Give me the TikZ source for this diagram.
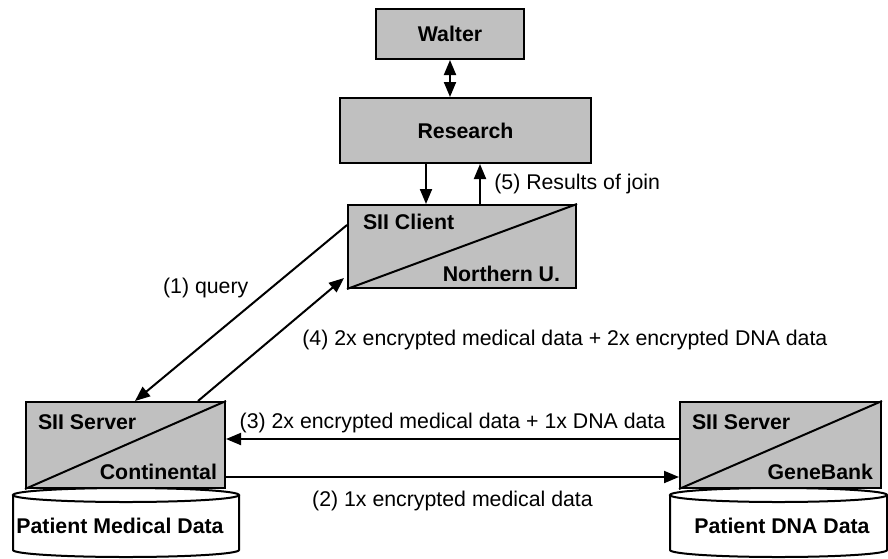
\documentclass[tikz,border=0pt]{standalone}
\usepackage{fontspec}
\setmainfont{Liberation Sans}
\usetikzlibrary{arrows.meta,calc}
\definecolor{boxgray}{RGB}{192,192,192}

\begin{document}
\begin{tikzpicture}[x=1pt, y=-1pt, line width=2pt,
  font=\fontsize{21.3}{25}\selectfont,
  >={Triangle[length=15pt,width=12pt]},
  box/.style={draw, fill=boxgray, inner sep=0pt, font=\fontsize{21.3}{25}\selectfont\bfseries},
  boxlbl/.style={inner sep=0pt, font=\fontsize{21.3}{25}\selectfont\bfseries}]
\useasboundingbox (0,0) rectangle (888,558);

% databases under the servers
\draw[fill=white] (13,495) -- (13,550) arc[start angle=180, end angle=360, x radius=113pt, y radius=7pt] -- (239,495);
\draw[fill=white] (126,495) ellipse[x radius=113pt, y radius=7pt];
\node[boxlbl] (meddb) at (120,526) {Patient Medical Data};
\draw[fill=white] (670,495) -- (670,550) arc[start angle=180, end angle=360, x radius=108.5pt, y radius=7pt] -- (887,495);
\draw[fill=white] (778.5,495) ellipse[x radius=108.5pt, y radius=7pt];
\node[boxlbl] (dnadb) at (782,526) {Patient DNA Data};

% boxes
\node[box, minimum width=148pt, minimum height=50pt] (walter) at (450,34) {Walter};
\node[box, minimum width=251pt, minimum height=65pt] (research) at (465.5,130.5) {Research};

\node[box, minimum width=228pt, minimum height=83pt] (client) at (462,246.5) {};
\draw (client.south west) -- (client.north east);
\node[boxlbl, anchor=west] (clientrole) at ($(client.north west)+(15,18)$) {SII Client};
\node[boxlbl, anchor=east] (clientorg) at ($(client.south east)+(-16,-15)$) {Northern U.};

\node[box, minimum width=199pt, minimum height=86pt] (srvmed) at (125.5,445) {};
\draw (srvmed.south west) -- (srvmed.north east);
\node[boxlbl, anchor=west] (srvmedrole) at ($(srvmed.north west)+(12,21)$) {SII Server};
\node[boxlbl, anchor=east] (srvmedorg) at ($(srvmed.south east)+(-8,-17)$) {Continental};

\node[box, minimum width=201pt, minimum height=86pt] (srvdna) at (780.5,445) {};
\draw (srvdna.south west) -- (srvdna.north east);
\node[boxlbl, anchor=west] (srvdnarole) at ($(srvdna.north west)+(12,21)$) {SII Server};
\node[boxlbl, anchor=east] (srvdnaorg) at ($(srvdna.south east)+(-8,-17)$) {GeneBank};

% messages
\draw[<->] (walter.south) -- (walter.south |- research.north);
\draw[->] ([xshift=-39.5pt]research.south) -- ([xshift=-39.5pt]research.south |- client.north);
\draw[->] ([xshift=14.5pt]research.south |- client.north) -- ([xshift=14.5pt]research.south) node[midway, right=10pt] {(5) Results of join};
\draw[->] ([yshift=21.5pt]client.west) -- ([xshift=9.5pt]srvmed.north) node[pos=0.36, left=18pt] {(1) query};
\draw[->] ([xshift=72.5pt]srvmed.north) -- ([xshift=-3pt,yshift=11pt]client.south west) node[midway, right=27pt] {(4) 2x encrypted medical data + 2x encrypted DNA data};
\draw[->] ([yshift=6pt]srvdna.west) -- ([yshift=6pt]srvmed.east) node[midway, above=2pt] {(3) 2x encrypted medical data + 1x DNA data};
\draw[->] ([yshift=-32pt]srvmed.east) -- ([yshift=-32pt]srvdna.west) node[midway, below=10pt] {(2) 1x encrypted medical data};
\end{tikzpicture}
\end{document}
